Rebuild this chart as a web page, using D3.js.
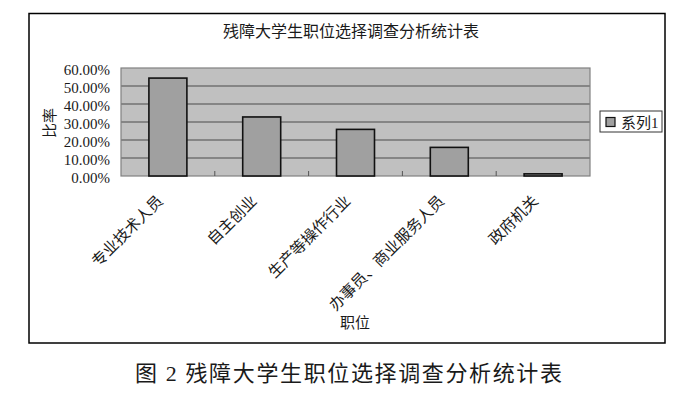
<!DOCTYPE html>
<html>
<head>
<meta charset="utf-8">
<script src="https://cdn.jsdelivr.net/npm/d3@7"></script>
<style>
  body { margin: 0; background: #fff; }
  svg { display: block; }
  text { fill: #1a1a1a; }
</style>
</head>
<body>
<script>
// data
var categories = ["专业技术人员", "自主创业", "生产等操作行业", "办事员、商业服务人员", "政府机关"];
var values = [0.544, 0.328, 0.259, 0.159, 0.012];
var yTicks = [0, 0.1, 0.2, 0.3, 0.4, 0.5, 0.6];
var seriesName = "系列1";
var chartTitle = "残障大学生职位选择调查分析统计表";
var xTitle = "职位";
var yTitle = "比率";
var caption = "图 2  残障大学生职位选择调查分析统计表";

var cjk = "'Liberation Serif', 'Noto Sans CJK SC', serif";

var svg = d3.select("body").append("svg")
            .attr("width", 700)
            .attr("height", 393);

// outer chart frame
svg.append("rect")
    .attr("x", 29).attr("y", 13.5)
    .attr("width", 636).attr("height", 329.5)
    .attr("fill", "#fff")
    .attr("stroke", "#000")
    .attr("stroke-width", 1.5);

var plot = {left: 121, right: 590, top: 68, bottom: 176};

var x = d3.scaleBand()
    .domain(categories)
    .range([plot.left, plot.right])
    .paddingInner(0.595)
    .paddingOuter(0.2975);

var xCat = d3.scaleBand()
    .domain(categories)
    .range([plot.left, plot.right]);

var y = d3.scaleLinear()
    .domain([0, 0.6])
    .range([plot.bottom, plot.top]);

// plot area
svg.append("rect")
    .attr("x", plot.left).attr("y", plot.top)
    .attr("width", plot.right - plot.left)
    .attr("height", plot.bottom - plot.top)
    .attr("fill", "#c0c0c0");

svg.selectAll("line.grid")
    .data(yTicks.slice(1, -1))
    .enter().append("line")
    .attr("class", "grid")
    .attr("x1", plot.left).attr("x2", plot.right)
    .attr("y1", function(d) { return y(d); })
    .attr("y2", function(d) { return y(d); })
    .attr("stroke", "#4a4a4a")
    .attr("stroke-width", 1);

svg.append("rect")
    .attr("x", plot.left).attr("y", plot.top)
    .attr("width", plot.right - plot.left)
    .attr("height", plot.bottom - plot.top)
    .attr("fill", "none")
    .attr("stroke", "#808080")
    .attr("stroke-width", 1.2);

// category tick marks (inside, at band boundaries)
svg.selectAll("line.ctick")
    .data(categories.slice(1))
    .enter().append("line")
    .attr("class", "ctick")
    .attr("x1", function(d) { return xCat(d); })
    .attr("x2", function(d) { return xCat(d); })
    .attr("y1", plot.bottom)
    .attr("y2", plot.bottom - 5)
    .attr("stroke", "#555")
    .attr("stroke-width", 1);

// bars
svg.selectAll("rect.bar")
    .data(values)
    .enter().append("rect")
    .attr("class", "bar")
    .attr("x", function(d, i) { return x(categories[i]); })
    .attr("width", x.bandwidth())
    .attr("y", function(d) { return y(d); })
    .attr("height", function(d) { return y(0) - y(d); })
    .attr("fill", "#a0a0a0")
    .attr("stroke", "#111")
    .attr("stroke-width", 1.6);

// y axis labels
var yAxis = svg.append("g")
    .attr("transform", "translate(" + plot.left + ",0)")
    .call(d3.axisLeft(y).tickValues(yTicks).tickFormat(d3.format(".2%")).tickSize(0).tickPadding(11));
yAxis.select(".domain").remove();
yAxis.selectAll("text")
    .attr("font-family", "'Liberation Serif', serif")
    .attr("font-size", 15)
    .attr("dy", "0.42em")
    .attr("fill", "#1a1a1a");

// x axis labels, rotated
var xAxis = svg.append("g")
    .attr("transform", "translate(0," + plot.bottom + ")")
    .call(d3.axisBottom(xCat).tickSize(0).tickPadding(0));
xAxis.select(".domain").remove();
xAxis.selectAll("text")
    .attr("font-family", cjk)
    .attr("font-size", 15.5)
    .attr("text-anchor", "end")
    .attr("fill", "#1a1a1a")
    .attr("y", 0).attr("dy", 0)
    .attr("transform", "translate(-4,26) rotate(-45)");

// titles
svg.append("text")
    .attr("x", 351).attr("y", 37)
    .attr("text-anchor", "middle")
    .attr("font-family", cjk)
    .attr("font-size", 16)
    .text(chartTitle);

svg.append("text")
    .attr("x", 355).attr("y", 328)
    .attr("text-anchor", "middle")
    .attr("font-family", cjk)
    .attr("font-size", 15)
    .text(xTitle);

svg.append("text")
    .attr("transform", "translate(55,123) rotate(-90)")
    .attr("text-anchor", "middle")
    .attr("font-family", cjk)
    .attr("font-size", 15)
    .text(yTitle);

// legend
var legend = svg.append("g");
legend.append("rect")
    .attr("x", 600).attr("y", 111)
    .attr("width", 62).attr("height", 21)
    .attr("fill", "#fff")
    .attr("stroke", "#333")
    .attr("stroke-width", 1);
legend.append("rect")
    .attr("x", 606).attr("y", 117.5)
    .attr("width", 9).attr("height", 9)
    .attr("fill", "#a0a0a0")
    .attr("stroke", "#111")
    .attr("stroke-width", 1.2);
legend.append("text")
    .attr("x", 621).attr("y", 127.5)
    .attr("font-family", cjk)
    .attr("font-size", 15)
    .text(seriesName);

// figure caption below the frame
svg.append("text")
    .attr("x", 135).attr("y", 381)
    .attr("textLength", 427)
    .attr("lengthAdjust", "spacing")
    .attr("font-family", cjk)
    .attr("font-size", 22)
    .attr("fill", "#111")
    .text(caption);
</script>
</body>
</html>
